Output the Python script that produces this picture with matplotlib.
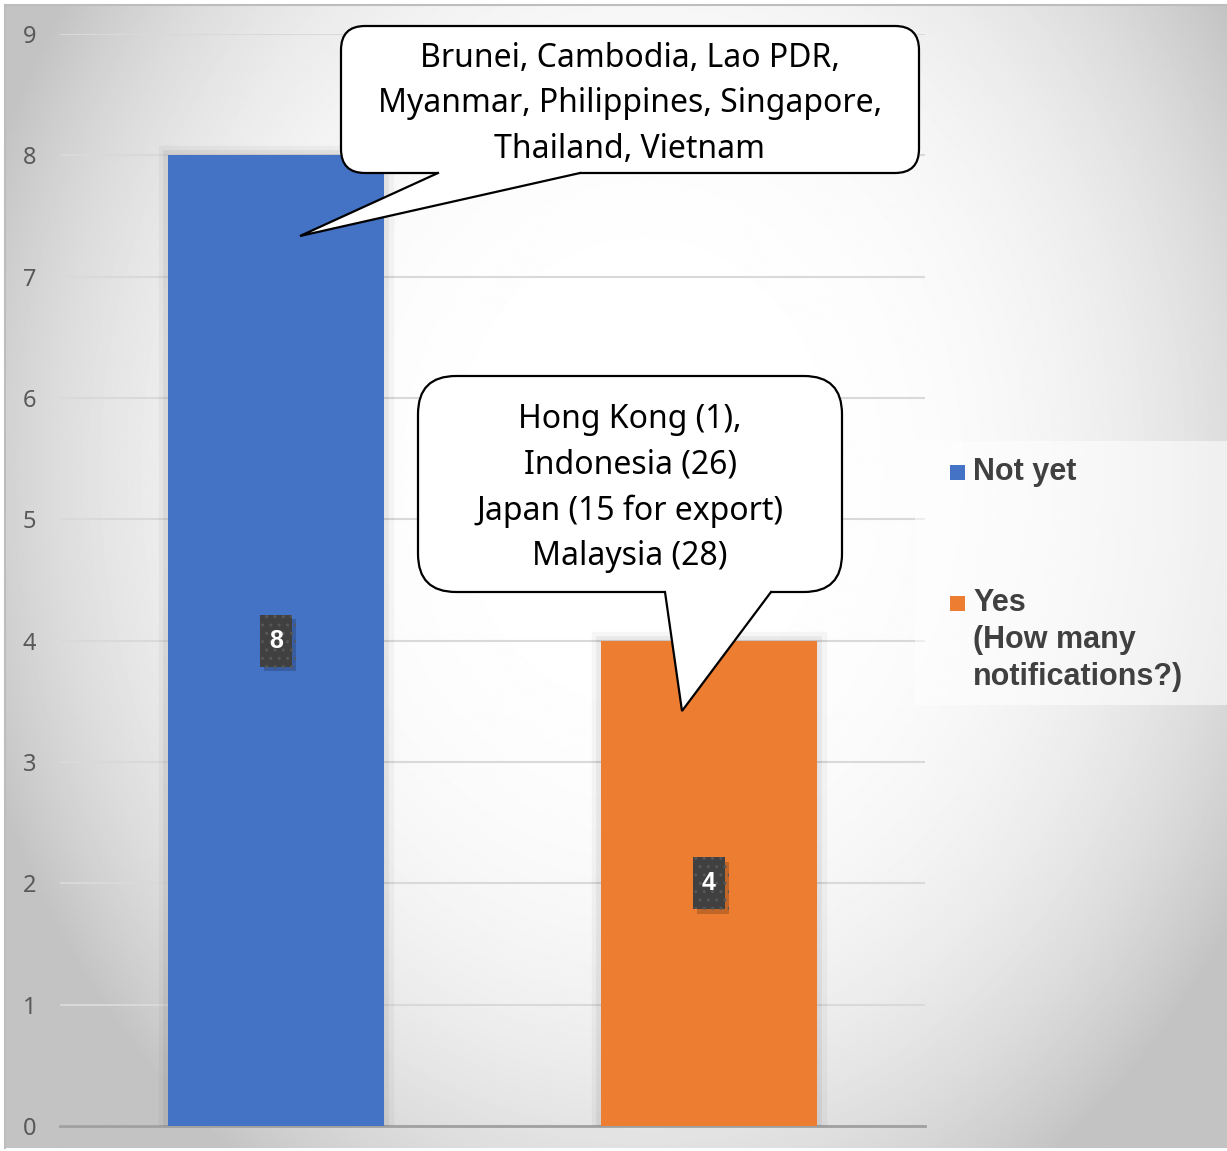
import numpy as np
import matplotlib
matplotlib.use("Agg")
import matplotlib.pyplot as plt
from matplotlib.patches import FancyBboxPatch, Polygon, Rectangle
from matplotlib.lines import Line2D
from matplotlib.transforms import IdentityTransform
from matplotlib import patheffects as pe

# --- data ---
categories = ["Not yet", "Yes\n(How many\nnotifications?)"]
counts = [8, 4]
colors = ["#4472C4", "#ED7D31"]
yticks = list(range(0, 10))
note_not_yet = "Brunei, Cambodia, Lao PDR,\nMyanmar, Philippines, Singapore,\nThailand, Vietnam"
note_yes = "Hong Kong (1),\nIndonesia (26)\nJapan (15 for export)\nMalaysia (28)"

W, H = 1227, 1151
fig = plt.figure(figsize=(W / 100, H / 100), dpi=100)
pix = IdentityTransform()

def fx(px):
    return px / W

def fy(py):  # py counted from the top of the picture
    return 1 - py / H

# radial grey background
bg = fig.add_axes([fx(5), 3 / H, 1 - fx(5), 1 - 8 / H])
yy, xx = np.mgrid[0:H, 0:W]
r = np.sqrt(((xx - 640) / 700.0) ** 2 + ((yy - 470) / 850.0) ** 2)
shade = 255 - 60 * np.clip(r, 0, 1.0) ** 3.2
bg.imshow(shade, cmap="gray", vmin=0, vmax=255, aspect="auto", interpolation="bilinear")
bg.set_xticks([])
bg.set_yticks([])
for side in ["right", "bottom"]:
    bg.spines[side].set_visible(False)
for side in ["top", "left"]:
    bg.spines[side].set_color("#bdbdbd")
    bg.spines[side].set_linewidth(1.5)

# main chart
ax = fig.add_axes([fx(60), 1 - 1126 / H, 865 / W, (1126 - 34) / H])
ax.set_facecolor("none")
x = np.arange(len(counts))
bars = ax.bar(x, counts, width=0.5, color=colors, zorder=2)
for b in bars:
    b.set_path_effects([pe.Stroke(linewidth=14, foreground="k", alpha=0.035),
                        pe.Stroke(linewidth=7, foreground="k", alpha=0.05),
                        pe.Normal()])
ax.set_xlim(-0.5, 1.5)
ax.set_ylim(0, 9)
ax.set_yticks(yticks)
ax.set_xticks([])
ax.yaxis.grid(True, color="#d9d9d9", lw=1.5, zorder=0)
ax.set_axisbelow(True)
for s in ax.spines.values():
    s.set_visible(False)
ax.axhline(0, color="#a0a0a0", lw=2, zorder=1, clip_on=False)
ax.tick_params(axis="y", length=0, pad=17, labelsize=17, labelcolor="#595959")
for t in ax.get_yticklabels():
    t.set_family("Noto Sans")

# data labels (dark boxes)
for xi, v in zip(x, counts):
    cx, cy = ax.transData.transform((xi, v / 2))
    box = Rectangle((cx - 16, cy - 26), 32, 52, transform=pix, fc="#404040",
                    ec="#575757", hatch="..", lw=0, zorder=5)
    box.set_path_effects([pe.SimplePatchShadow(offset=(3, -3), shadow_rgbFace="k", alpha=0.18),
                          pe.Normal()])
    fig.add_artist(box)
    fig.text(cx / W, cy / H, str(v), ha="center", va="center", color="white",
             fontsize=18, fontweight="bold", family="Liberation Sans", zorder=6)

# callouts
def callout(box, base, tip, radius):
    x0, y0, x1, y1 = box
    rect = FancyBboxPatch((x0, H - y1), x1 - x0, y1 - y0,
                          boxstyle=f"round,pad=0,rounding_size={radius}",
                          fc="white", ec="black", lw=1.6, transform=pix, zorder=10)
    fig.add_artist(rect)
    by = H - y1
    tx, ty = tip[0], H - tip[1]
    poly = Polygon([(base[0], by + 4), (base[0], by), (tx, ty), (base[1], by), (base[1], by + 4)],
                   closed=True, fc="white", ec="none", transform=pix, zorder=11)
    fig.add_artist(poly)
    ln = Line2D([base[0], tx, base[1]], [by, ty, by], color="black", lw=1.6,
                transform=pix, zorder=12, solid_joinstyle="miter")
    fig.add_artist(ln)

callout((341, 26, 919, 173), (438, 580), (300, 236), 24)
callout((418, 376, 842, 592), (665, 771), (682, 711), 38)

fig.text(fx(630), fy(104), note_not_yet, ha="center", va="center", fontsize=23,
         family="Noto Sans", linespacing=1.5, zorder=13)
fig.text(fx(630), fy(488), note_yes, ha="center", va="center", fontsize=23,
         family="Noto Sans", linespacing=1.5, zorder=13)

# legend panel
fig.add_artist(Rectangle((915, H - 705), W - 915, 705 - 441, transform=pix,
                         fc="white", alpha=0.55, ec="none", zorder=3))
legend_rows = [472, 640]
for lab, col, yc in zip(categories, colors, legend_rows):
    n = lab.count("\n")
    top = yc - n * 18.5
    fig.add_artist(Rectangle((950, H - top - 8), 15, 15, transform=pix, fc=col,
                             ec="none", zorder=4))
    fig.text(fx(973), fy(yc), lab, ha="left", va="center", fontsize=22,
             fontweight="bold", family="Liberation Sans", color="#404040",
             linespacing=1.32, zorder=4)

fig.savefig("out.png", dpi=100)
